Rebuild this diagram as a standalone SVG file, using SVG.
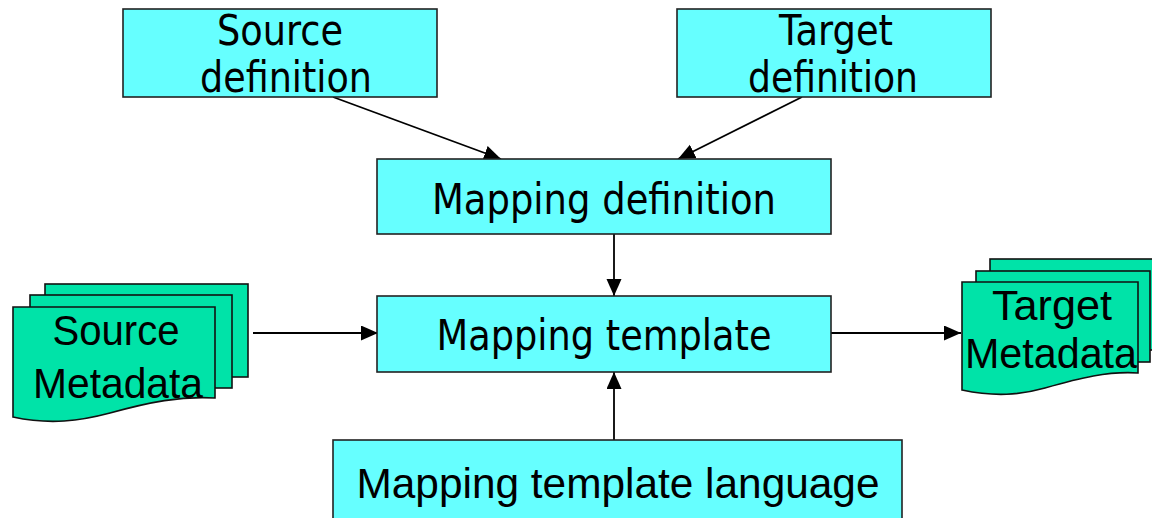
<svg xmlns="http://www.w3.org/2000/svg" width="1152" height="518" viewBox="0 0 1152 518">
  <style>
    .box { fill: #66FFFF; stroke: #222; stroke-width: 1.6; }
    .doc { fill: #00E3A8; stroke: #111; stroke-width: 1.6; }
    .t1 { font-family: Tahoma, "DejaVu Sans", sans-serif; font-size: 42px; fill: #000; }
    .t2 { font-family: "Liberation Sans", Arial, sans-serif; font-size: 42px; fill: #000; }
    .conn { stroke: #000; stroke-width: 1.8; fill: none; marker-end: url(#ah); }
  </style>
  <defs>
    <marker id="ah" markerUnits="userSpaceOnUse" markerWidth="20" markerHeight="16" refX="17" refY="7.5" orient="auto">
      <path d="M0,0 L17,7.5 L0,15 Z" fill="#000"/>
    </marker>
  </defs>

  <g id="connectors">
    <line class="conn" x1="333" y1="97" x2="501" y2="159"/>
    <line class="conn" x1="802" y1="97" x2="678" y2="159"/>
    <line class="conn" x1="614" y1="234" x2="614" y2="296"/>
    <line class="conn" x1="614" y1="441" x2="614" y2="372"/>
    <line class="conn" x1="253" y1="333" x2="378" y2="333"/>
    <line class="conn" x1="831" y1="333" x2="961" y2="333"/>
  </g>

  <g id="source-definition">
    <rect class="box" x="123" y="9" width="314" height="88"/>
    <text class="t1" x="280" y="45" text-anchor="middle" textLength="126" lengthAdjust="spacingAndGlyphs">Source</text>
    <text class="t1" x="286" y="92" text-anchor="middle" textLength="172" lengthAdjust="spacingAndGlyphs">definition</text>
  </g>

  <g id="target-definition">
    <rect class="box" x="677" y="9" width="314" height="88"/>
    <text class="t1" x="836" y="45" text-anchor="middle" textLength="114" lengthAdjust="spacingAndGlyphs">Target</text>
    <text class="t1" x="833" y="92" text-anchor="middle" textLength="170" lengthAdjust="spacingAndGlyphs">definition</text>
  </g>

  <g id="mapping-definition">
    <rect class="box" x="377" y="159" width="454" height="75"/>
    <text class="t1" x="604" y="214" text-anchor="middle" textLength="344" lengthAdjust="spacingAndGlyphs">Mapping definition</text>
  </g>

  <g id="mapping-template">
    <rect class="box" x="377" y="296" width="454" height="76"/>
    <text class="t1" x="604" y="350" text-anchor="middle" textLength="335" lengthAdjust="spacingAndGlyphs">Mapping template</text>
  </g>

  <g id="mapping-template-language">
    <rect class="box" x="333" y="440" width="569" height="90"/>
    <text x="618" y="498" text-anchor="middle" font-family="Liberation Sans, Arial, sans-serif" font-size="42" textLength="523" lengthAdjust="spacingAndGlyphs">Mapping template language</text>
  </g>

  <g id="source-metadata">
    <rect class="doc" x="45" y="284" width="203" height="93"/>
    <rect class="doc" x="30" y="295" width="202" height="93"/>
    <path class="doc" d="M13,307 H215 V398 C180,396 150,402 110,413 C80,421 50,425 13,417 Z"/>
    <text class="t2" x="116" y="345" text-anchor="middle" textLength="127" lengthAdjust="spacingAndGlyphs">Source</text>
    <text class="t2" x="118" y="398" text-anchor="middle" textLength="170" lengthAdjust="spacingAndGlyphs">Metadata</text>
  </g>

  <g id="target-metadata">
    <rect class="doc" x="990" y="259" width="180" height="91"/>
    <rect class="doc" x="976" y="271" width="174" height="91"/>
    <path class="doc" d="M962,282 H1138 V373 C1108,371 1080,378 1045,388 C1020,395 995,397 962,390 Z"/>
    <text class="t2" x="1052" y="320" text-anchor="middle" textLength="120" lengthAdjust="spacingAndGlyphs">Target</text>
    <text class="t2" x="1051" y="368" text-anchor="middle" textLength="172" lengthAdjust="spacingAndGlyphs">Metadata</text>
  </g>
</svg>
